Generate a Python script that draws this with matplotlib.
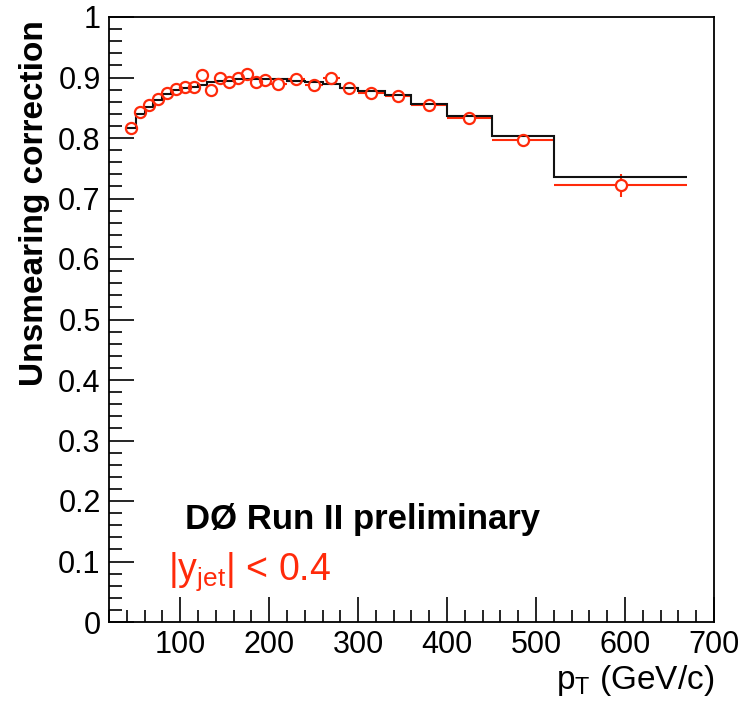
import numpy as np
import matplotlib
matplotlib.use("Agg")
import matplotlib.pyplot as plt
from matplotlib.ticker import MultipleLocator, FuncFormatter

# ---- data ----
bin_edges = [40, 50, 60, 70, 80, 90, 100, 110, 120, 130, 140, 150, 160, 170,
             180, 190, 200, 220, 240, 260, 280, 300, 330, 360, 400, 450, 520, 670]
mc_values = [0.817, 0.840, 0.852, 0.863, 0.872, 0.879, 0.883, 0.885, 0.888,
             0.892, 0.894, 0.895, 0.897, 0.898, 0.898, 0.898, 0.898, 0.895,
             0.893, 0.890, 0.882, 0.878, 0.871, 0.857, 0.837, 0.804, 0.735]
data_values = [0.816, 0.843, 0.855, 0.864, 0.874, 0.881, 0.885, 0.885, 0.904,
               0.879, 0.899, 0.892, 0.899, 0.906, 0.893, 0.896, 0.889, 0.898,
               0.888, 0.899, 0.882, 0.875, 0.869, 0.855, 0.833, 0.796, 0.722]
data_errors = [0.005, 0.005, 0.005, 0.005, 0.005, 0.005, 0.005, 0.005, 0.005,
               0.005, 0.006, 0.006, 0.007, 0.007, 0.007, 0.008, 0.006, 0.006,
               0.006, 0.008, 0.008, 0.006, 0.006, 0.006, 0.006, 0.010, 0.019]
x_ticks = [100, 200, 300, 400, 500, 600, 700]
y_ticks = [0, 0.1, 0.2, 0.3, 0.4, 0.5, 0.6, 0.7, 0.8, 0.9, 1]

RED = '#ff2a0a'

plt.rcParams['font.family'] = ['Liberation Sans', 'DejaVu Sans']
plt.rcParams['mathtext.fontset'] = 'custom'
plt.rcParams['mathtext.rm'] = 'Liberation Sans'
plt.rcParams['mathtext.it'] = 'Liberation Sans:italic'
plt.rcParams['mathtext.bf'] = 'Liberation Sans:bold'

fig = plt.figure(figsize=(7.48, 7.03), dpi=100)
ax = fig.add_axes([109/748, 1-622/703, (714-109)/748, (622-17)/703])

edges = np.array(bin_edges, dtype=float)
centers = 0.5*(edges[:-1] + edges[1:])
halfw = 0.5*(edges[1:] - edges[:-1])

# red error bars (lines only)
ax.errorbar(centers, data_values, xerr=halfw, yerr=data_errors, fmt='none',
            ecolor=RED, elinewidth=1.5, capsize=0, zorder=2)
# white interior of markers hides the error bars inside the circle
ax.plot(centers, data_values, 'o', ms=8, mfc='white', mec='none', zorder=3)
# black histogram
ax.stairs(mc_values, edges, baseline=None, color='#111111', lw=1.5, zorder=4)
# hollow red markers
ax.plot(centers, data_values, 'o', ms=8, mfc='none', mec=RED, mew=1.6, zorder=5)

ax.set_xlim(20, 700)
ax.set_ylim(0, 1)
ax.set_xticks(x_ticks)
ax.set_yticks(y_ticks)
ax.xaxis.set_minor_locator(MultipleLocator(20))
ax.yaxis.set_minor_locator(MultipleLocator(0.02))
fmt = FuncFormatter(lambda v, p: '%g' % v)
ax.xaxis.set_major_formatter(fmt)
ax.yaxis.set_major_formatter(fmt)
ax.tick_params(which='both', direction='in', top=False, right=False,
               labelsize=22, width=1.2, colors='black')
ax.tick_params(which='major', length=18, pad=6)
ax.tick_params(which='minor', length=9)
for s in ax.spines.values():
    s.set_linewidth(1.3)

ylab = ax.set_ylabel('Unsmearing correction', fontsize=24, fontweight='bold')
ylab.set_rotation(90)
ylab.set_rotation_mode('anchor')
ylab.set_ha('right')
ylab.set_va('center')
ax.yaxis.set_label_coords((35-109)/605, 1-3/605)
ax.set_xlabel(r'$\mathrm{p_{T}}$ (GeV/c)', fontsize=24, ha='right', va='center')
ax.xaxis.set_label_coords(1.0, (622-680)/605)

ax.text((185-109)/605, (622-520)/605, 'DØ Run II preliminary', transform=ax.transAxes,
        fontsize=25, fontweight='bold', ha='left', va='center')
ax.text((168-109)/605, (622-572)/605, r'$\mathrm{|y_{jet}|}$ < 0.4', transform=ax.transAxes,
        fontsize=27, color=RED, ha='left', va='center')

fig.savefig('out.png', dpi=100)
